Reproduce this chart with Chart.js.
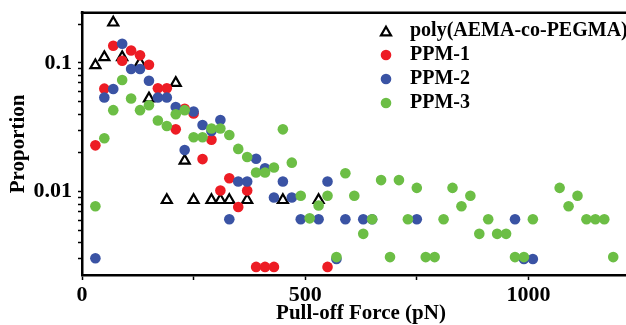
<!DOCTYPE html>
<html><head><meta charset="utf-8">
<script src="https://cdn.jsdelivr.net/npm/chart.js@4.4.0/dist/chart.umd.min.js"></script>
<style>
html,body{margin:0;padding:0;background:#fff;overflow:hidden;}
#wrap{position:relative;width:648px;height:325px;}
</style></head><body>
<div id="wrap"><canvas id="c"></canvas></div>
<script>
// ---- data ----
const seriesNames = ['poly(AEMA-co-PEGMA)', 'PPM-1', 'PPM-2', 'PPM-3'];

const polyX = [30,50,70,90,130,150,190,210,230,250,290,310,330,370,450,530];
const polyY = [0.096,0.111,0.206,0.111,0.100,0.053,0.0086,0.070,0.0174,0.0086,0.0086,0.0086,0.0086,0.0086,0.0086,0.0086];

const ppm1X = [30,50,70,90,110,130,150,170,190,210,230,250,270,290,310,330,350,370,390,410,430,550];
const ppm1Y = [0.0229,0.0632,0.136,0.104,0.125,0.115,0.097,0.0636,0.0636,0.0305,0.044,0.0405,0.0179,0.0253,0.0102,0.0127,0.0076,0.0102,0.0026,0.0026,0.0026,0.0026];

const ppm2X = [30,50,70,90,110,130,150,170,190,210,230,250,270,290,310,330,350,370,390,410,430,450,470,490,530,550,570,590,630,650,750,970,990,1010];
const ppm2Y = [0.00304,0.054,0.0628,0.141,0.0898,0.0898,0.0727,0.054,0.054,0.0455,0.0211,0.042,0.033,0.0296,0.036,0.0061,0.012,0.012,0.018,0.0152,0.009,0.012,0.009,0.0061,0.0061,0.012,0.003,0.0061,0.0061,0.0061,0.0061,0.0061,0.003,0.003];

const ppm3X = [30,50,70,90,110,130,150,170,190,210,230,250,270,290,310,330,350,370,390,410,430,450,470,490,510,530,550,570,590,610,630,650,670,690,710,730,750,770,790,810,830,850,870,890,910,930,950,970,990,1010,1070,1090,1110,1130,1150,1170,1190];
const ppm3Y = [0.0077,0.026,0.043,0.0738,0.053,0.043,0.047,0.0357,0.0324,0.040,0.043,0.0265,0.0265,0.031,0.031,0.0276,0.0215,0.0186,0.0141,0.0141,0.0154,0.0305,0.0168,0.0093,0.0062,0.0078,0.0093,0.0031,0.0139,0.0093,0.0047,0.0061,0.0123,0.0031,0.0123,0.0061,0.0107,0.0031,0.0031,0.0061,0.0107,0.0077,0.0093,0.0047,0.0061,0.0047,0.0047,0.0031,0.0031,0.0061,0.0107,0.0077,0.0093,0.0061,0.0061,0.0061,0.0031];

const xTickValues = [0,250,500,750,1000,1250];
const xTickLabels = ['0','','500','','1000',''];
const yTickValues = [0.003,0.004,0.005,0.006,0.007,0.008,0.009,0.01,0.02,0.03,0.04,0.05,0.06,0.07,0.08,0.09,0.1,0.2];
const yTickLabels = ['','','','','','','','0.01','','','','','','','','','0.1',''];

const xTitle = 'Pull-off Force (pN)';
const yTitle = 'Proportion';

// ---- styling ----
const FONT = '"Liberation Serif", "Times New Roman", serif';
const toPts = (xs, ys) => xs.map((x, i) => ({x: x, y: ys[i]}));

const boxPlugin = {
  id: 'box',
  afterDraw(chart) {
    const {ctx, chartArea: a} = chart;
    ctx.save();
    ctx.strokeStyle = '#000';
    ctx.lineWidth = 2.5;
    ctx.beginPath();
    ctx.moveTo(a.left - 1.25, a.top);
    ctx.lineTo(a.right, a.top);
    ctx.lineTo(a.right, a.bottom);
    ctx.stroke();
    ctx.restore();
  }
};

const legendPlugin = {
  id: 'customLegend',
  afterDatasetsDraw(chart) {
    const ctx = chart.ctx;
    const x0 = 386, y0 = 31, dy = 24, tx = 410;
    ctx.save();
    chart.data.datasets.forEach((ds, i) => {
      const y = y0 + i * dy;
      ctx.fillStyle = ds.backgroundColor;
      ctx.strokeStyle = ds.borderColor;
      ctx.lineWidth = ds.pointBorderWidth;
      Chart.helpers.drawPoint(ctx, {pointStyle: ds.pointStyle, radius: ds.pointRadius, rotation: 0, borderWidth: ds.pointBorderWidth}, x0, y + (ds.pointStyle === 'triangle' ? 1.5 : 0));
      ctx.fillStyle = '#000';
      ctx.font = 'bold 20px ' + FONT;
      ctx.textBaseline = 'middle';
      ctx.textAlign = 'left';
      ctx.fillText(ds.label, tx, y);
    });
    ctx.restore();
  }
};

new Chart(document.getElementById('c'), {
  type: 'scatter',
  data: {
    datasets: [
      {label: seriesNames[0], data: toPts(polyX, polyY), pointStyle: 'triangle', pointRadius: 5.8, pointBorderWidth: 2.2, borderColor: '#000', backgroundColor: '#fff', order: 4},
      {label: seriesNames[1], data: toPts(ppm1X, ppm1Y), pointStyle: 'circle', pointRadius: 5.3, pointBorderWidth: 0, borderColor: '#ED1C24', backgroundColor: '#ED1C24', order: 3},
      {label: seriesNames[2], data: toPts(ppm2X, ppm2Y), pointStyle: 'circle', pointRadius: 5.3, pointBorderWidth: 0, borderColor: '#3A53A4', backgroundColor: '#3A53A4', order: 2},
      {label: seriesNames[3], data: toPts(ppm3X, ppm3Y), pointStyle: 'circle', pointRadius: 5.3, pointBorderWidth: 0, borderColor: '#6CBE45', backgroundColor: '#6CBE45', order: 1}
    ]
  },
  options: {
    responsive: true,
    maintainAspectRatio: false,
    animation: false,
    events: [],
    layout: {padding: {top: 12.7, right: 0, left: 0, bottom: 0}},
    plugins: {legend: {display: false}, tooltip: {enabled: false}},
    scales: {
      x: {
        type: 'linear', min: 0, max: 1250,
        afterBuildTicks(s) { s.ticks = xTickValues.map(v => ({value: v})); },
        afterFit(s) { s.height = 50; s.paddingLeft = 0; s.paddingRight = 0; },
        ticks: {callback: (v, i) => xTickLabels[i], font: {family: FONT, size: 22, weight: 'bold'}, color: '#000', padding: 2, maxRotation: 0, autoSkip: false},
        grid: {drawOnChartArea: false, drawTicks: true, tickLength: 5, tickWidth: 1.5, tickColor: '#000'},
        border: {display: true, width: 2.5, color: '#000'},
        title: {display: true, text: xTitle, font: {family: FONT, size: 21, weight: 'bold'}, color: '#000', padding: {top: 0, bottom: -1}}
      },
      y: {
        type: 'logarithmic', min: 0.00225, max: 0.246,
        afterBuildTicks(s) { s.ticks = yTickValues.map(v => ({value: v})); },
        afterFit(s) { s.width = 82; s.paddingTop = 0; s.paddingBottom = 0; },
        ticks: {callback: (v, i) => yTickLabels[i], font: {family: FONT, size: 22, weight: 'bold'}, color: '#000', padding: 6, autoSkip: false},
        grid: {drawOnChartArea: false, drawTicks: true, tickLength: 4, tickWidth: 1.5, tickColor: '#000'},
        border: {display: true, width: 2.5, color: '#000'},
        title: {display: true, text: yTitle, font: {family: FONT, size: 21, weight: 'bold'}, color: '#000', padding: {top: 6, bottom: 0}}
      }
    }
  },
  plugins: [boxPlugin, legendPlugin]
});
</script>
</body></html>
